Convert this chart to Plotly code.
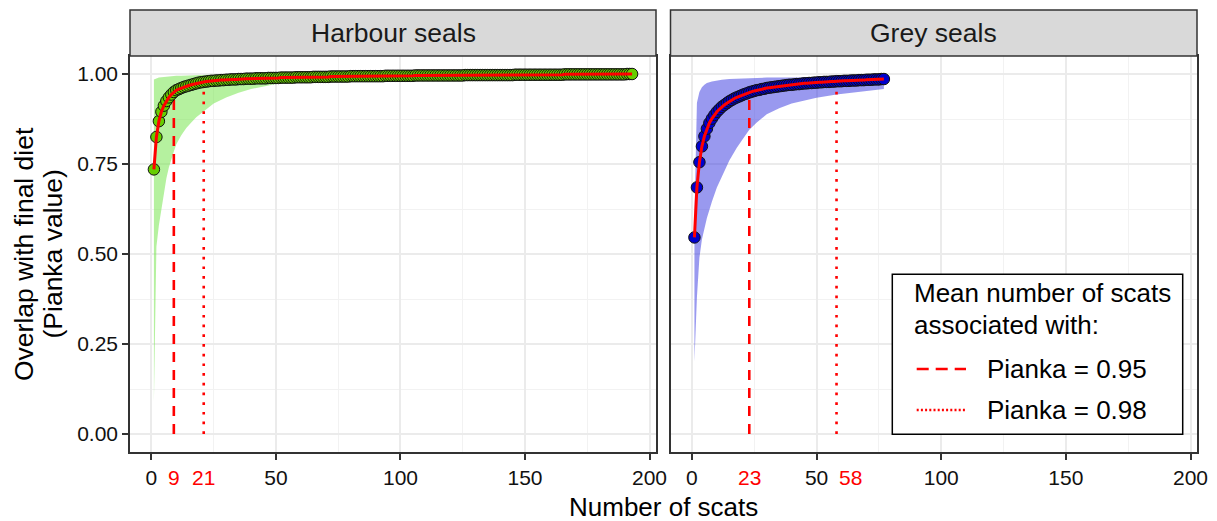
import plotly.graph_objects as go

# ---------------- data ----------------
panel_titles = ["Harbour seals", "Grey seals"]
pianka_levels = [0.95, 0.98]
legend_labels = ["Pianka = 0.95", "Pianka = 0.98"]
x_ticks = [0, 50, 100, 150, 200]
y_ticks = [0.0, 0.25, 0.5, 0.75, 1.0]
y_tick_text = ["0.00", "0.25", "0.50", "0.75", "1.00"]

harbour_mean = [
    0.735, 0.825, 0.869, 0.895, 0.912, 0.925, 0.935, 0.943, 0.950, 0.955,
    0.958, 0.961, 0.964, 0.966, 0.968, 0.970, 0.972, 0.974, 0.976, 0.977,
    0.978, 0.979, 0.980, 0.981, 0.981, 0.982, 0.982, 0.983, 0.983, 0.984,
    0.984, 0.985, 0.985, 0.985, 0.986, 0.986, 0.986, 0.987, 0.987, 0.987,
    0.987, 0.988, 0.988, 0.988, 0.988, 0.988, 0.989, 0.989, 0.989, 0.989,
    0.989, 0.990, 0.990, 0.990, 0.990, 0.990, 0.990, 0.991, 0.991, 0.991,
    0.991, 0.991, 0.991, 0.991, 0.992, 0.992, 0.992, 0.992, 0.992, 0.992,
    0.992, 0.993, 0.993, 0.993, 0.993, 0.993, 0.993, 0.993, 0.993, 0.994,
    0.994, 0.994, 0.994, 0.994, 0.994, 0.994, 0.994, 0.994, 0.994, 0.994,
    0.994, 0.994, 0.994, 0.995, 0.995, 0.995, 0.995, 0.995, 0.995, 0.995,
    0.995, 0.995, 0.995, 0.995, 0.995, 0.996, 0.996, 0.996, 0.996, 0.996,
    0.996, 0.996, 0.996, 0.996, 0.996, 0.996, 0.996, 0.996, 0.996, 0.996,
    0.996, 0.996, 0.996, 0.996, 0.996, 0.997, 0.997, 0.997, 0.997, 0.997,
    0.997, 0.997, 0.997, 0.997, 0.997, 0.997, 0.997, 0.997, 0.997, 0.997,
    0.997, 0.997, 0.997, 0.997, 0.997, 0.998, 0.998, 0.998, 0.998, 0.998,
    0.998, 0.998, 0.998, 0.998, 0.998, 0.998, 0.998, 0.998, 0.998, 0.998,
    0.998, 0.998, 0.998, 0.998, 0.998, 0.999, 0.999, 0.999, 0.999, 0.999,
    0.999, 0.999, 0.999, 0.999, 0.999, 0.999, 0.999, 0.999, 0.999, 0.999,
    0.999, 0.999, 0.999, 0.999, 0.999, 0.999, 0.999, 0.999, 0.999, 0.999,
    1.000, 1.000, 1.000,
]
harbour_n = list(range(1, len(harbour_mean) + 1))

harbour_band_n = [1, 2, 3, 4, 5, 6, 7, 8, 9, 10, 12, 14, 16, 18, 20, 25, 30, 35,
                  40, 50, 60, 75, 100, 125, 150, 175, 193]
harbour_lower = [0.09, 0.52, 0.58, 0.63, 0.67, 0.71, 0.74, 0.765, 0.785, 0.805,
                 0.83, 0.85, 0.865, 0.88, 0.892, 0.918, 0.935, 0.948, 0.958,
                 0.972, 0.979, 0.985, 0.990, 0.993, 0.995, 0.997, 0.999]
harbour_upper = [0.985, 0.988, 0.990, 0.991, 0.992, 0.993, 0.993, 0.994, 0.994,
                 0.995, 0.995, 0.996, 0.996, 0.997, 0.997, 0.998, 0.998, 0.999,
                 0.999, 1.000, 1.000, 1.000, 1.000, 1.000, 1.000, 1.000, 1.000]

grey_mean = [
    0.546, 0.685, 0.755, 0.799, 0.827, 0.848, 0.864, 0.876, 0.886, 0.895,
    0.902, 0.909, 0.914, 0.919, 0.924, 0.928, 0.932, 0.935, 0.938, 0.941,
    0.944, 0.946, 0.949, 0.951, 0.953, 0.955, 0.956, 0.958, 0.959, 0.961,
    0.962, 0.963, 0.964, 0.965, 0.966, 0.967, 0.968, 0.969, 0.970, 0.970,
    0.971, 0.972, 0.972, 0.973, 0.974, 0.974, 0.975, 0.975, 0.976, 0.976,
    0.977, 0.977, 0.978, 0.978, 0.978, 0.979, 0.979, 0.980, 0.980, 0.980,
    0.981, 0.981, 0.981, 0.982, 0.982, 0.982, 0.983, 0.983, 0.983, 0.984,
    0.984, 0.984, 0.985, 0.985, 0.985, 0.986, 0.986,
]
grey_n = list(range(1, len(grey_mean) + 1))

grey_band_n = [1, 2, 3, 4, 5, 6, 8, 10, 12, 15, 18, 20, 23, 26, 30, 35, 40, 45,
               50, 58, 65, 70, 77]
grey_lower = [0.20, 0.38, 0.49, 0.54, 0.57, 0.60, 0.645, 0.685, 0.715, 0.76,
              0.795, 0.815, 0.845, 0.865, 0.888, 0.905, 0.918, 0.927, 0.934,
              0.943, 0.949, 0.953, 0.958]
grey_upper = [0.60, 0.92, 0.95, 0.963, 0.970, 0.975, 0.979, 0.982, 0.984, 0.986,
              0.987, 0.988, 0.989, 0.989, 0.990, 0.990, 0.990, 0.990, 0.990,
              0.990, 0.990, 0.990, 0.990]

harbour_n_at_level = [9, 21]
grey_n_at_level = [23, 58]

# ---------------- styling ----------------
FONT = "Liberation Sans, Arial, sans-serif"
W, H = 1217, 521
ML, MR, MT, MB = 130, 20, 10, 69
PW, PH = W - ML - MR, H - MT - MB
panel_top = (PH - 46) / PH
dom1 = [0.0, 526 / PW]
dom2 = [540.5 / PW, 1.0]
line_dashes = ["10px,8px", "2.7px,7px"]
leg_dashes = ["12px,7px", "2px,2.2px"]

fig = go.Figure()

panels = [
    dict(n=harbour_n, mean=harbour_mean, bn=harbour_band_n, lo=harbour_lower,
         hi=harbour_upper, lv=harbour_n_at_level, band="rgba(120,230,80,0.55)",
         fill="#66CD00", xa="x", ya="y"),
    dict(n=grey_n, mean=grey_mean, bn=grey_band_n, lo=grey_lower,
         hi=grey_upper, lv=grey_n_at_level, band="rgba(60,60,225,0.52)",
         fill="#0000CD", xa="x2", ya="y2"),
]

for p in panels:
    fig.add_trace(go.Scatter(
        x=p["bn"] + p["bn"][::-1], y=p["hi"] + p["lo"][::-1],
        fill="toself", fillcolor=p["band"], line=dict(width=0),
        mode="lines", xaxis=p["xa"], yaxis=p["ya"], showlegend=False,
        hoverinfo="skip"))
    for k, lvl in enumerate(pianka_levels):
        fig.add_trace(go.Scatter(
            x=[p["lv"][k], p["lv"][k]], y=[0, lvl], mode="lines",
            line=dict(color="red", width=2.6, dash=line_dashes[k]),
            xaxis=p["xa"], yaxis=p["ya"], showlegend=False, hoverinfo="skip"))
    fig.add_trace(go.Scatter(
        x=p["n"], y=p["mean"], mode="markers",
        marker=dict(size=11.5, color=p["fill"], line=dict(color="#111111", width=1)),
        xaxis=p["xa"], yaxis=p["ya"], showlegend=False))
    fig.add_trace(go.Scatter(
        x=p["n"], y=p["mean"], mode="lines",
        line=dict(color="#FF0000", width=3),
        xaxis=p["xa"], yaxis=p["ya"], showlegend=False))

axis_common = dict(
    showline=True, mirror=True, linecolor="#333333", linewidth=1.5,
    ticks="outside", ticklen=6, tickwidth=1.5, tickcolor="#333333",
    showgrid=True, gridcolor="#EBEBEB", gridwidth=2, zeroline=False,
    tickfont=dict(family=FONT, size=21, color="#111111"),
)
xcommon = dict(axis_common, range=[-8.6, 202.6], tickvals=x_ticks,
               minor=dict(tickvals=[25, 75, 125, 175], showgrid=True,
                          gridcolor="#F2F2F2", gridwidth=1.2))
ycommon = dict(axis_common, range=[-0.05, 1.05], tickvals=y_ticks,
               ticktext=y_tick_text, domain=[0, panel_top],
               minor=dict(tickvals=[0.125, 0.375, 0.625, 0.875], showgrid=True,
                          gridcolor="#F2F2F2", gridwidth=1.2))

fig.update_layout(
    width=W, height=H, margin=dict(l=ML, r=MR, t=MT, b=MB),
    paper_bgcolor="white", plot_bgcolor="white", showlegend=False,
    font=dict(family=FONT, color="#000000"),
    xaxis=dict(xcommon, domain=dom1, anchor="y"),
    xaxis2=dict(xcommon, domain=dom2, anchor="y2"),
    yaxis=dict(ycommon, anchor="x"),
    yaxis2=dict(ycommon, anchor="x2", showticklabels=False, ticks=""),
)

shapes = []
annotations = []
for i, (xa, title) in enumerate(zip(["x", "x2"], panel_titles)):
    shapes.append(dict(type="rect", xref=f"{xa} domain", yref="paper",
                       x0=0, x1=1, y0=panel_top, y1=1.0,
                       fillcolor="#D9D9D9", line=dict(color="#333333", width=1.5),
                       layer="above"))
    annotations.append(dict(text=title, xref=f"{xa} domain", yref="paper",
                            x=0.5, y=(panel_top + 1) / 2, showarrow=False,
                            xanchor="center", yanchor="middle",
                            font=dict(family=FONT, size=26.5, color="#1A1A1A")))

# red labels for the mean number of scats
for xa, vals in (("x", harbour_n_at_level), ("x2", grey_n_at_level)):
    for j, v in enumerate(vals):
        anchor = "left" if (xa == "x2" and j == 1) else "center"
        annotations.append(dict(text=str(v), xref=xa, yref="paper", x=v,
                                y=-(477 - 452) / PH, showarrow=False,
                                xanchor=anchor, yanchor="middle",
                                font=dict(family=FONT, size=21, color="red")))

# axis titles
annotations.append(dict(text="Number of scats", xref="paper", yref="paper",
                        x=(663.5 - ML) / PW, y=-(506.5 - 452) / PH, showarrow=False,
                        xanchor="center", yanchor="middle",
                        font=dict(family=FONT, size=26, color="#000000")))
for txt, px in (("Overlap with final diet", 24), ("(Pianka value)", 52.5)):
    annotations.append(dict(text=txt, xref="paper", yref="paper",
                            x=(px - ML) / PW, y=(452 - 254) / PH, textangle=-90,
                            showarrow=False, xanchor="center", yanchor="middle",
                            font=dict(family=FONT, size=26.5, color="#000000")))

# legend box
def px_x(v):
    return (v - ML) / PW


def px_y(v):
    return (MT + PH - v) / PH


shapes.append(dict(type="rect", xref="paper", yref="paper",
                   x0=px_x(892.3), x1=px_x(1182.7), y0=px_y(434.3), y1=px_y(274.3),
                   fillcolor="white", line=dict(color="#000000", width=1.5),
                   layer="above"))
for line_txt, py in (("Mean number of scats", 293.3), ("associated with:", 325)):
    annotations.append(dict(text=line_txt, xref="paper", yref="paper",
                            x=px_x(911.7), y=px_y(py), showarrow=False,
                            xanchor="left", yanchor="middle",
                            font=dict(family=FONT, size=26, color="#000000")))
for k, (lab, py) in enumerate(zip(legend_labels, (369, 410))):
    shapes.append(dict(type="line", xref="paper", yref="paper",
                       x0=px_x(916.7), x1=px_x(966), y0=px_y(py), y1=px_y(py),
                       line=dict(color="red", width=2.4, dash=leg_dashes[k]),
                       layer="above"))
    annotations.append(dict(text=lab, xref="paper", yref="paper",
                            x=px_x(985), y=px_y(py), showarrow=False,
                            xanchor="left", yanchor="middle",
                            font=dict(family=FONT, size=26, color="#000000")))

fig.update_layout(shapes=shapes, annotations=annotations)
fig.write_html("out.html", config={"displayModeBar": False},
               post_script="document.body.style.margin='0px';document.body.style.padding='0px';")
